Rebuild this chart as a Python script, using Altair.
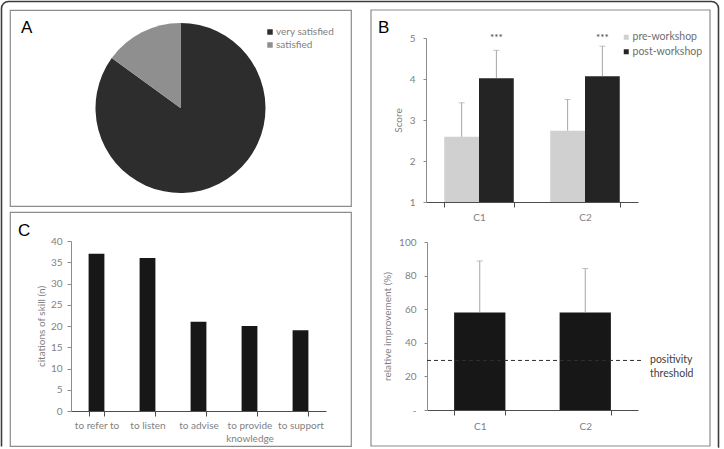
import math

import altair as alt
import pandas as pd

# ---------------- data ----------------
# A: overall satisfaction with the workshop
satisfaction_levels = ["very satisfied", "satisfied"]
satisfaction_counts = [85, 15]

# B (top): scores before / after the workshop, mean and SD
score_criteria = ["C1", "C1", "C2", "C2"]
score_phases = ["pre-workshop", "post-workshop", "pre-workshop", "post-workshop"]
score_means = [2.59, 4.02, 2.74, 4.07]
score_sds = [0.83, 0.68, 0.76, 0.73]
score_ticks = [1, 2, 3, 4, 5]
significance_criteria = ["C1", "C2"]
significance_marks = ["***", "***"]

# B (bottom): relative improvement, mean and SD
improvement_criteria = ["C1", "C2"]
improvement_means = [58.1, 58.1]
improvement_sds = [30.6, 26.1]
improvement_ticks = [0, 20, 40, 60, 80, 100]
positivity_threshold = 29.5

# C: skills cited
skills = ["to refer to", "to listen", "to advise", "to provide\nknowledge", "to support"]
skill_citations = [37, 36, 21, 20, 19]
citation_ticks = [0, 5, 10, 15, 20, 25, 30, 35, 40]

# ---------------- styles ----------------
FONT = "Lato"
LETTER_FONT = "Liberation Sans"
TEXT_GREY = "#7f7f7f"
AXIS_Y_GREY = "#8c8c8c"
AXIS_X_DARK = "#4d4d4d"
FRAME_GREY = "#8c8c8c"
ERR_GREY = "#a6a6a6"
BAR_DARK = "#171717"
phase_order = ["pre-workshop", "post-workshop"]

A_W, A_H = 341, 196
C_W, C_H = 341, 234
B_W = 339
NO_STROKE = alt.ViewBackground(stroke="transparent")


def panel_letter(letter, x, y):
    return alt.Chart(pd.DataFrame({"letter": [letter]})).mark_text(
        font=LETTER_FONT, fontSize=17, align="left", baseline="alphabetic", color="#000000"
    ).encode(text="letter:N", x=alt.value(x), y=alt.value(y))


def box(x0, y0, x1, y1, **style):
    return alt.Chart(pd.DataFrame({"k": [0]})).mark_rect(fillOpacity=0, **style).encode(
        x=alt.value(x0), x2=alt.value(x1), y=alt.value(y0), y2=alt.value(y1)
    )


# ---------------- panel A ----------------
# rounded outer frame of the whole figure (bottom edge left open)
fx0, fy0, fx1, fy1, fr = -8.5, -8.5, 708.5, 437.0, 7.0
fw, fh = fx1 - fx0, fy1 - fy0
frame_visible = (fw - 2 * fr) + math.pi * fr / 2 + (fh - fr)
outer_frame = box(
    fx0, fy0, fx1, fy1, stroke="#3c3c3c", strokeWidth=1.6,
    cornerRadius=fr, cornerRadiusBottomLeft=0, cornerRadiusBottomRight=0,
    strokeDash=[frame_visible + 0.5, fw, fh + 20],
)

pie_data = pd.DataFrame({
    "level": satisfaction_levels,
    "count": satisfaction_counts,
    "slice_order": list(range(len(satisfaction_levels))),
})
pie = alt.Chart(pie_data).mark_arc(outerRadius=85).encode(
    theta=alt.Theta("count:Q"),
    order=alt.Order("slice_order:Q"),
    color=alt.Color(
        "level:N",
        sort=satisfaction_levels,
        scale=alt.Scale(domain=satisfaction_levels, range=["#2d2d2d", "#8f8f8f"]),
        legend=alt.Legend(
            title=None, orient="none", legendX=255, legendY=17, symbolType="square",
            symbolSize=30, symbolStrokeWidth=0, labelFontSize=10, labelColor=TEXT_GREY,
            labelOffset=1, rowPadding=3, padding=0,
        ),
    ),
)
panel_a = alt.layer(outer_frame, pie, panel_letter("A", 11, 23)).properties(width=A_W, height=A_H)

# ---------------- panel C ----------------
skill_data = pd.DataFrame({"skill": skills, "citations": skill_citations})
skill_bars = alt.Chart(skill_data).mark_bar(color=BAR_DARK).encode(
    x=alt.X(
        "skill:N", sort=skills, title=None,
        scale=alt.Scale(range=[61, 316], paddingInner=0.69, paddingOuter=0.345),
        axis=alt.Axis(orient="bottom", offset=-35, tickBand="extent", labelAngle=0,
                      labelPadding=4, labelLineHeight=13,
                      labelExpr="split(datum.label, '\\n')"),
    ),
    y=alt.Y(
        "citations:Q", title="citations of skill (n)",
        scale=alt.Scale(domain=[0, 40], range=[199, 29]),
        axis=alt.Axis(orient="left", offset=-61, values=citation_ticks, labelPadding=5,
                      tickSize=4, titlePadding=4),
    ),
)
panel_c = alt.layer(skill_bars, panel_letter("C", 8, 24)).properties(width=C_W, height=C_H)

# ---------------- panel B (top) ----------------
score_data = pd.DataFrame({
    "criterion": score_criteria,
    "phase": score_phases,
    "mean": score_means,
    "upper": [m + s for m, s in zip(score_means, score_sds)],
})
top_x = alt.X(
    "criterion:N", title=None,
    scale=alt.Scale(range=[55, 267], paddingInner=0.344, paddingOuter=0.172),
    axis=alt.Axis(orient="bottom", offset=-4, tickBand="extent", labelAngle=0, labelPadding=5),
)
top_offset = alt.XOffset("phase:N", sort=phase_order, scale=alt.Scale(domain=phase_order))
score_scale = alt.Scale(domain=[1, 5], range=[192, 28])
score_axis = alt.Axis(orient="left", offset=-55, values=score_ticks, labelPadding=8,
                      tickSize=3, titlePadding=6)


def score_y(field):
    return alt.Y(field, type="quantitative", title="Score", scale=score_scale, axis=score_axis)


score_bars = alt.Chart(score_data).mark_bar().encode(
    x=top_x,
    xOffset=top_offset,
    y=score_y("mean"),
    y2=alt.datum(1),
    color=alt.Color(
        "phase:N", sort=phase_order,
        scale=alt.Scale(domain=phase_order, range=["#d0d0d0", "#242424"]),
        legend=alt.Legend(
            title=None, orient="none", legendX=250, legendY=22, symbolType="square",
            symbolSize=25, symbolStrokeWidth=0, labelFontSize=10.5, labelColor="#6e6e6e",
            labelOffset=1, rowPadding=3.5, padding=0,
        ),
    ),
)
score_err = alt.Chart(score_data).mark_rule(color=ERR_GREY, strokeWidth=1).encode(
    x=top_x, xOffset=top_offset, y=score_y("mean"), y2="upper:Q",
)
score_caps = alt.Chart(score_data).mark_tick(
    color=ERR_GREY, size=6, thickness=1, orient="horizontal"
).encode(x=top_x, xOffset=top_offset, y=score_y("upper"))

sig_data = pd.DataFrame({
    "criterion": significance_criteria,
    "phase": ["post-workshop"] * len(significance_criteria),
    "mark": significance_marks,
    "top": [max(score_ticks)] * len(significance_criteria),
})
stars = alt.Chart(sig_data).mark_text(fontSize=10, color="#404040", baseline="middle").encode(
    x=top_x, xOffset=top_offset, y=score_y("top"), text="mark:N"
)
# frame of the whole B panel, spanning both of its rows
b_frame = box(0, 0, B_W, A_H + 6 + C_H, stroke=FRAME_GREY, strokeWidth=1.2)

panel_b_top = alt.layer(
    b_frame, score_bars, score_err, score_caps, stars, panel_letter("B", 7, 23)
).properties(width=B_W, height=A_H, view=NO_STROKE)

# ---------------- panel B (bottom) ----------------
imp_data = pd.DataFrame({
    "criterion": improvement_criteria,
    "mean": improvement_means,
    "upper": [m + s for m, s in zip(improvement_means, improvement_sds)],
})
bot_x = alt.X(
    "criterion:N", title=None,
    scale=alt.Scale(range=[56, 267], paddingInner=0.514, paddingOuter=0.257),
    axis=alt.Axis(orient="bottom", offset=-36, tickBand="extent", labelAngle=0, labelPadding=6),
)
imp_scale = alt.Scale(domain=[0, 100], range=[198, 30])
imp_axis = alt.Axis(orient="left", offset=-56, values=improvement_ticks,
                    labelExpr="datum.value === 0 ? '-' : datum.label",
                    labelPadding=8, tickSize=3, titlePadding=6)


def imp_y(field):
    return alt.Y(field, type="quantitative", title="relative improvement (%)",
                 scale=imp_scale, axis=imp_axis)


imp_bars = alt.Chart(imp_data).mark_bar(color=BAR_DARK).encode(
    x=bot_x, y=imp_y("mean"), y2=alt.datum(0),
)
imp_err = alt.Chart(imp_data).mark_rule(color=ERR_GREY, strokeWidth=1).encode(
    x=bot_x, y=imp_y("mean"), y2="upper:Q"
)
imp_caps = alt.Chart(imp_data).mark_tick(
    color=ERR_GREY, size=6, thickness=1, orient="horizontal"
).encode(x=bot_x, y=imp_y("upper"))

threshold_data = pd.DataFrame({"threshold": [positivity_threshold], "label": ["positivity\nthreshold"]})
thr_rule = alt.Chart(threshold_data).mark_rule(strokeDash=[4, 3], color="#2e2e2e", strokeWidth=1).encode(
    y=imp_y("threshold"), x=alt.value(56), x2=alt.value(272)
)
thr_text = alt.Chart(threshold_data).mark_text(
    align="left", baseline="middle", lineBreak="\n", lineHeight=14, fontSize=10.5, color="#404040"
).encode(y=imp_y("threshold"), x=alt.value(279), text="label:N")

panel_b_bottom = alt.layer(imp_bars, imp_err, imp_caps, thr_rule, thr_text).properties(
    width=B_W, height=C_H, view=NO_STROKE
)

# ---------------- assembly ----------------
chart = (
    alt.concat(
        panel_a, panel_b_top, panel_c, panel_b_bottom,
        columns=2, spacing=alt.RowColnumber(row=6, column=20), bounds="flush", padding=0,
    )
    .resolve_scale(color="independent")
    .configure(font=FONT)
    .configure_view(stroke=FRAME_GREY, strokeWidth=1.2)
    .configure_axis(
        grid=False, labelFont=FONT, titleFont=FONT, labelFontSize=10, titleFontSize=10,
        labelColor=TEXT_GREY, titleColor=TEXT_GREY, titleFontWeight="normal", domainWidth=1,
    )
    .configure_axisY(domainColor=AXIS_Y_GREY, tickColor=AXIS_Y_GREY)
    .configure_axisX(domainColor=AXIS_X_DARK, tickColor=AXIS_X_DARK)
    .configure_legend(labelFont=FONT)
    .configure_text(font=FONT)
)

chart.save("out.html", embed_options={"renderer": "svg", "actions": False})
